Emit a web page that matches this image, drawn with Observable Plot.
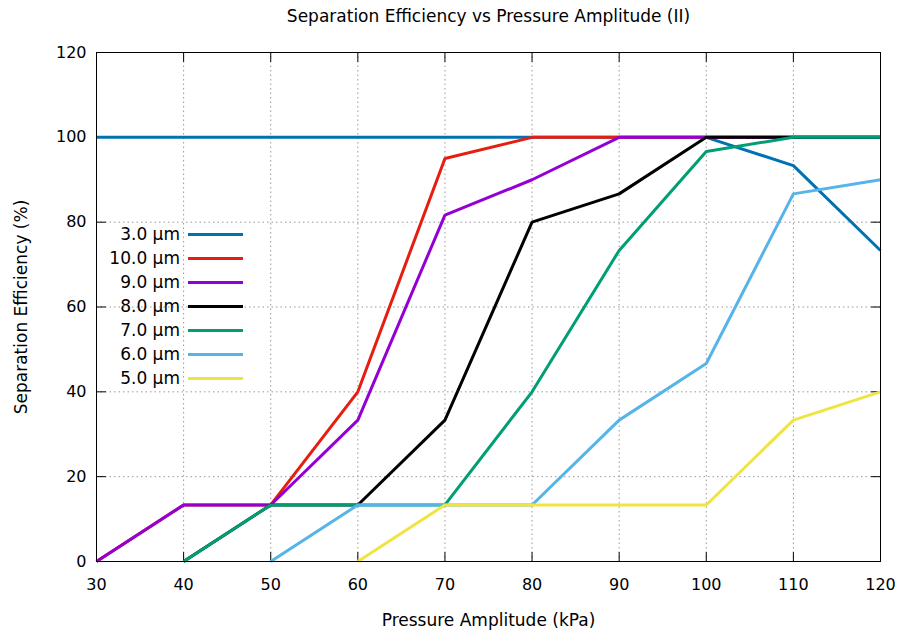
<!DOCTYPE html>
<html>
<head>
<meta charset="utf-8">
<script src="https://cdn.jsdelivr.net/npm/d3@7"></script>
<script src="https://cdn.jsdelivr.net/npm/@observablehq/plot@0.6"></script>
<style>
  html, body { margin: 0; padding: 0; background: #fff; }
  #wrap { position: relative; width: 899px; height: 634px; font-family: "DejaVu Sans", Verdana, sans-serif; }
  #title { height: 34px; line-height: 32px; text-align: center; font-size: 17px; color: #000; padding-left: 78px; box-sizing: border-box; }
  #legend { position: absolute; left: 100px; top: 222px; }
  .row { display: flex; align-items: center; height: 24px; }
  .lab { width: 80px; text-align: right; font-size: 17px; color: #000; }
  .sw { width: 55px; height: 3px; margin-left: 8px; }
</style>
</head>
<body>
<div id="wrap">
  <div id="title">Separation Efficiency vs Pressure Amplitude (II)</div>
  <div id="chart"></div>
  <div id="legend"></div>
</div>
<script>
const pressure = [30, 40, 50, 60, 70, 80, 90, 100, 110, 120];
const sizes = ["3.0 µm", "10.0 µm", "9.0 µm", "8.0 µm", "7.0 µm", "6.0 µm", "5.0 µm"];
const colors = ["#0072b2", "#e51e10", "#9400d3", "#000000", "#009e73", "#56b4e9", "#f0e442"];
const eff3  = [100, 100, 100, 100, 100, 100, 100, 100, 93.33, 73.33];
const eff10 = [0, 13.33, 13.33, 40, 95, 100, 100, 100, 100, 100];
const eff9  = [0, 13.33, 13.33, 33.33, 81.67, 90, 100, 100, 100, 100];
const eff8  = [null, 0, 13.33, 13.33, 33.33, 80, 86.67, 100, 100, 100];
const eff7  = [null, 0, 13.33, 13.33, 13.33, 40, 73.33, 96.67, 100, 100];
const eff6  = [null, null, 0, 13.33, 13.33, 13.33, 33.33, 46.67, 86.67, 90];
const eff5  = [null, null, null, 0, 13.33, 13.33, 13.33, 13.33, 33.33, 40];
const series = [eff3, eff10, eff9, eff8, eff7, eff6, eff5];
const xTicks = [30, 40, 50, 60, 70, 80, 90, 100, 110, 120];
const yTicks = [0, 20, 40, 60, 80, 100, 120];

const tickShape = { draw(ctx, l) { ctx.moveTo(0, 0); ctx.lineTo(0, -l); } };
const tickLen = 9;

const lineMarks = series.map((s, i) =>
  Plot.line(pressure.map((p, j) => ({x: p, y: s[j]})), {
    x: "x", y: "y", stroke: colors[i], strokeWidth: 3, strokeLinejoin: "miter", strokeLinecap: "butt"
  })
);

const chart = Plot.plot({
  width: 899,
  height: 600,
  marginTop: 18,
  marginBottom: 73,
  marginLeft: 96,
  marginRight: 19,
  style: { fontFamily: "DejaVu Sans, Verdana, sans-serif", fontSize: "16px", color: "#000", background: "#fff" },
  x: { domain: [30, 120], ticks: xTicks },
  y: { domain: [0, 120], ticks: yTicks },
  marks: [
    Plot.gridX(xTicks.slice(1, -1), { stroke: "#999", strokeOpacity: 1, strokeDasharray: "1.5,3" }),
    Plot.gridY(yTicks.slice(1, -1), { stroke: "#999", strokeOpacity: 1, strokeDasharray: "1.5,3" }),
    Plot.vector(xTicks, { x: d => d, frameAnchor: "bottom", length: tickLen, rotate: 0, anchor: "start", shape: tickShape, stroke: "#000", strokeWidth: 1 }),
    Plot.vector(xTicks, { x: d => d, frameAnchor: "top", length: tickLen, rotate: 180, anchor: "start", shape: tickShape, stroke: "#000", strokeWidth: 1 }),
    Plot.vector(yTicks, { y: d => d, frameAnchor: "left", length: tickLen, rotate: 90, anchor: "start", shape: tickShape, stroke: "#000", strokeWidth: 1 }),
    Plot.vector(yTicks, { y: d => d, frameAnchor: "right", length: tickLen, rotate: -90, anchor: "start", shape: tickShape, stroke: "#000", strokeWidth: 1 }),
    Plot.axisX(xTicks, { tickSize: 0, tickPadding: 17, label: null, fontSize: 16 }),
    Plot.axisY(yTicks, { tickSize: 0, tickPadding: 10, label: null, fontSize: 16 }),
    Plot.axisX({ ticks: [], tickSize: 0, label: "Pressure Amplitude (kPa)", labelAnchor: "center", labelArrow: "none", labelOffset: 64, fontSize: 17 }),
    Plot.axisY({ ticks: [], tickSize: 0, label: "Separation Efficiency (%)", labelAnchor: "center", labelArrow: "none", labelOffset: 82, fontSize: 17 }),
    ...lineMarks,
    Plot.frame({ stroke: "#000", strokeWidth: 1 })
  ]
});
document.getElementById("chart").appendChild(chart);

const legend = document.getElementById("legend");
sizes.forEach((s, i) => {
  const row = document.createElement("div");
  row.className = "row";
  row.innerHTML = `<div class="lab">${s}</div><div class="sw" style="background:${colors[i]}"></div>`;
  legend.appendChild(row);
});
</script>
</body>
</html>
